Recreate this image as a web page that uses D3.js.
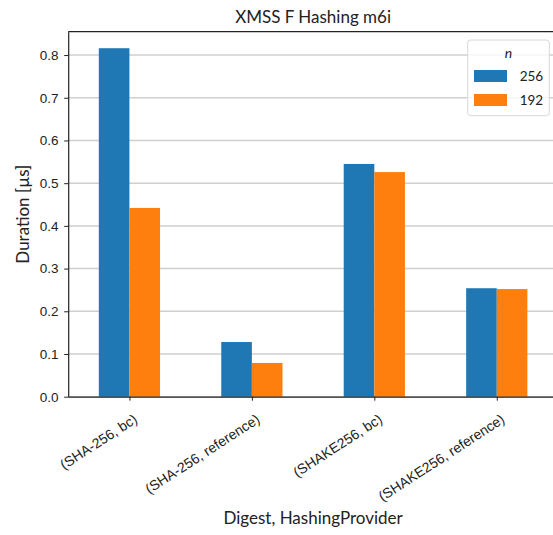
<!DOCTYPE html>
<html>
<head>
<meta charset="utf-8">
<script src="https://cdn.jsdelivr.net/npm/d3@7"></script>
<style>
  body { margin: 0; background: #fff; }
  svg { display: block; font-family: Lato, "Noto Sans", sans-serif; }
  .grid line { stroke: #cfcfcf; stroke-width: 1.5; }
  .axis path, .axis line { stroke: #222; }
  .axis text { font-size: 13.5px; fill: #222; }
  .axis.x text { font-size: 14px; }
</style>
</head>
<body>
<svg id="chart" width="553" height="535"></svg>
<script>
const categories = ["(SHA-256, bc)", "(SHA-256, reference)", "(SHAKE256, bc)", "(SHAKE256, reference)"];
const seriesNames = ["256", "192"];
const values256 = [0.816, 0.128, 0.545, 0.254];
const values192 = [0.442, 0.079, 0.526, 0.252];
const colors = ["#1f77b4", "#ff7f0e"];
const yTicks = [0.0, 0.1, 0.2, 0.3, 0.4, 0.5, 0.6, 0.7, 0.8];

const svg = d3.select("#chart");
const margin = {left: 68.2, top: 31.7, right: -5, bottom: 138.3};
const width = 553 - margin.left - margin.right;
const height = 535 - margin.top - margin.bottom;

const g = svg.append("g").attr("transform", `translate(${margin.left},${margin.top})`);

// categorical positions like pandas: index -0.5..n-0.5
const x = d3.scaleLinear().domain([-0.5, categories.length - 0.5]).range([0, width]);
const y = d3.scaleLinear().domain([0, 0.8547]).range([height, 0]);
const barW = 0.25;

// grid
g.append("g").attr("class", "grid")
  .selectAll("line").data(yTicks).join("line")
  .attr("x1", 0).attr("x2", width)
  .attr("y1", d => y(d)).attr("y2", d => y(d));

const series = [values256, values192];
series.forEach((vals, si) => {
  g.append("g").selectAll("rect").data(vals).join("rect")
    .attr("x", (d, i) => x(i - barW + si * barW))
    .attr("width", x(barW) - x(0))
    .attr("y", d => y(d))
    .attr("height", d => height - y(d))
    .attr("fill", colors[si]);
});

// frame
g.append("line").attr("x1", 0).attr("x2", width).attr("y1", 0).attr("y2", 0)
  .attr("stroke", "#222").attr("stroke-width", 1.2);

const yAxis = g.append("g").attr("class", "axis")
  .call(d3.axisLeft(y).tickValues(yTicks).tickFormat(d3.format(".1f")).tickSize(4).tickSizeOuter(0));
yAxis.select(".domain").attr("stroke-width", 1.2);
yAxis.selectAll("text").attr("dx", "-0.2em");

const xAxis = g.append("g").attr("class", "axis x")
  .attr("transform", `translate(0,${height})`)
  .call(d3.axisBottom(x).tickValues(d3.range(categories.length)).tickFormat(i => categories[i]).tickSize(4).tickSizeOuter(0));
xAxis.select(".domain").attr("stroke-width", 1.2);
xAxis.selectAll("text")
  .attr("text-anchor", "end")
  .attr("dy", "0.35em")
  .attr("transform", "translate(2,15) rotate(-33)");

// title and axis labels
svg.append("text").attr("x", margin.left + width / 2).attr("y", 23)
  .attr("text-anchor", "middle").attr("font-size", 17).attr("fill", "#222")
  .text("XMSS F Hashing m6i");

svg.append("text").attr("x", margin.left + width / 2).attr("y", 524)
  .attr("text-anchor", "middle").attr("font-size", 17).attr("fill", "#222")
  .text("Digest, HashingProvider");

svg.append("text")
  .attr("transform", `translate(29,${margin.top + height / 2}) rotate(-90)`)
  .attr("text-anchor", "middle").attr("font-size", 17).attr("fill", "#222")
  .text("Duration [µs]");

// legend
const lg = svg.append("g").attr("transform", "translate(467.7,40)");
lg.append("rect").attr("width", 81.6).attr("height", 75.7).attr("rx", 3)
  .attr("fill", "#fff").attr("fill-opacity", 0.8).attr("stroke", "#d8d8d8");
lg.append("text").attr("x", 40.8).attr("y", 18).attr("text-anchor", "middle")
  .attr("font-size", 14).attr("font-style", "italic").attr("fill", "#222").text("n");
seriesNames.forEach((name, i) => {
  lg.append("rect").attr("x", 6.3).attr("y", 30 + i * 24).attr("width", 33).attr("height", 12)
    .attr("fill", colors[i]);
  lg.append("text").attr("x", 75.5).attr("y", 41 + i * 24).attr("text-anchor", "end")
    .attr("font-size", 13.5).attr("fill", "#222").text(name);
});
</script>
</body>
</html>
